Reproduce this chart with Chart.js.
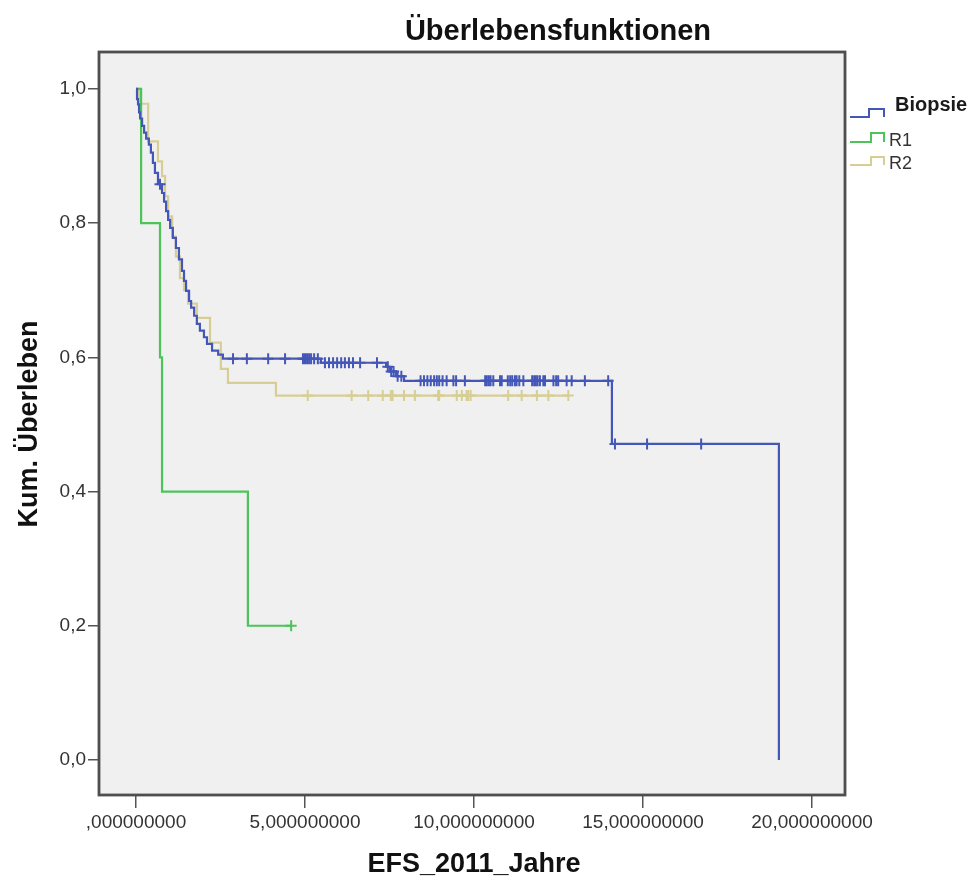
<!DOCTYPE html>
<html><head><meta charset="utf-8">
<script src="https://cdn.jsdelivr.net/npm/chart.js@4"></script>
<style>html,body{margin:0;padding:0;background:#fff;}canvas{display:block}</style>
</head><body>
<canvas id="c" width="975" height="879"></canvas>
<script>
// ---- data ----
const seriesNames = ['Biopsie', 'R1', 'R2'];
const seriesColors = ['#4457b8', '#4cc45a', '#d6ce94'];

const biopsieTimes = [0.03,0.06,0.09,0.12,0.18,0.24,0.30,0.38,0.44,0.50,0.56,0.65,0.77,0.83,0.89,0.95,1.01,1.09,1.18,1.27,1.36,1.42,1.48,1.57,1.63,1.72,1.80,1.89,2.01,2.10,2.25,2.43,2.57,5.47,7.40,7.51,7.69,7.93,14.08,19.02];
const biopsieSurv  = [0.985,0.977,0.965,0.956,0.945,0.935,0.926,0.917,0.905,0.890,0.875,0.858,0.845,0.832,0.818,0.805,0.793,0.778,0.763,0.746,0.729,0.714,0.699,0.684,0.674,0.662,0.650,0.640,0.630,0.620,0.610,0.604,0.598,0.592,0.586,0.579,0.572,0.565,0.471,0.000];
const biopsieCensored = [0.71,2.87,3.28,3.91,4.41,4.94,5.00,5.06,5.12,5.18,5.27,5.38,5.59,5.71,5.83,5.95,6.07,6.18,6.30,6.42,6.63,7.13,7.45,7.55,7.62,7.74,7.85,8.42,8.52,8.62,8.72,8.82,8.90,8.97,9.07,9.19,9.39,9.47,9.73,10.33,10.38,10.44,10.49,10.57,10.77,10.82,11.00,11.07,11.13,11.21,11.26,11.34,11.46,11.72,11.78,11.83,11.88,11.95,12.05,12.10,12.35,12.43,12.49,12.74,12.89,13.28,13.97,14.17,15.12,16.72];

const r1Times = [0.15,0.71,0.77,3.31];
const r1Surv  = [0.8,0.6,0.4,0.2];
const r1Censored = [4.59];

const r2Times = [0.09,0.36,0.65,0.77,0.86,0.95,1.07,1.18,1.30,1.42,1.54,1.80,2.19,2.51,2.72,4.14];
const r2Surv  = [0.978,0.922,0.892,0.870,0.840,0.810,0.780,0.750,0.718,0.700,0.680,0.659,0.622,0.583,0.562,0.543];
const r2Censored = [5.08,6.38,6.87,7.30,7.54,7.59,7.93,8.25,8.94,8.97,9.49,9.64,9.78,9.83,9.90,11.01,11.41,11.86,12.20,12.79];

const xTickValues = [0,5,10,15,20];
const xTickLabels = [',000000000','5,000000000','10,000000000','15,000000000','20,000000000'];
const yTickValues = [0,0.2,0.4,0.6,0.8,1.0];
const yTickLabels = ['0,0','0,2','0,4','0,6','0,8','1,0'];

const titleText = 'Überlebensfunktionen';
const xTitleText = 'EFS_2011_Jahre';
const yTitleText = 'Kum. Überleben';

// ---- build Kaplan-Meier step data ----
function stepLine(times, surv, censored) {
  const pts = [{x:0, y:1}];
  times.forEach((t,i)=>pts.push({x:t, y:surv[i]}));
  const lastT = Math.max(times[times.length-1], censored.length ? censored[censored.length-1] : 0);
  if (lastT > times[times.length-1]) pts.push({x:lastT, y:surv[surv.length-1]});
  return pts;
}
function survAt(times, surv, t) {
  let s = 1;
  for (let i=0;i<times.length;i++) { if (times[i] <= t) s = surv[i]; }
  return s;
}
function censorPts(times, surv, censored) {
  return censored.map(t=>({x:t, y:survAt(times, surv, t)}));
}
const sets = [
  [biopsieTimes, biopsieSurv, biopsieCensored],
  [r1Times, r1Surv, r1Censored],
  [r2Times, r2Surv, r2Censored]
];
const datasets = [];
sets.forEach((s,i)=>{
  datasets.push({label:seriesNames[i], data:stepLine(...s), stepped:true, borderColor:seriesColors[i],
    borderWidth:2.2, pointRadius:0, fill:false, order: i*2+1});
  datasets.push({label:seriesNames[i]+' zensiert', data:censorPts(...s), showLine:false,
    pointStyle:'cross', pointRadius:5.5, pointBorderWidth:2, pointBorderColor:seriesColors[i],
    pointBackgroundColor:seriesColors[i], order: i*2});
});

const FONT = '"Liberation Sans", Arial, Helvetica, sans-serif';

const decor = {
  id:'decor',
  beforeDraw(chart){
    const {ctx, chartArea:a} = chart;
    ctx.save();
    ctx.fillStyle = '#ffffff';
    ctx.fillRect(0,0,chart.width,chart.height);
    ctx.fillStyle = '#f0f0f0';
    ctx.fillRect(a.left, a.top, a.right-a.left, a.bottom-a.top);
    ctx.restore();
  },
  afterDraw(chart){
    const {ctx, chartArea:a} = chart;
    ctx.save();
    // frame
    ctx.strokeStyle = '#4e4e4e';
    ctx.lineWidth = 2.8;
    ctx.strokeRect(a.left, a.top, a.right-a.left, a.bottom-a.top);
    // title
    ctx.fillStyle = '#111';
    ctx.textAlign = 'center';
    ctx.textBaseline = 'alphabetic';
    ctx.font = 'bold 29px ' + FONT;
    ctx.fillText(titleText, 558, 40);
    // x title
    ctx.font = 'bold 27px ' + FONT;
    ctx.fillText(xTitleText, 474, 872);
    // y title
    ctx.save();
    ctx.translate(37, 424);
    ctx.rotate(-Math.PI/2);
    ctx.fillText(yTitleText, 0, 0);
    ctx.restore();
    // legend
    const leg = [
      {low:117, high:109, step:869, font:'bold 20px '+FONT, tx:895, ty:105, col:'#1a1a1a'},
      {low:142, high:133, step:871, font:'18px '+FONT, tx:889, ty:141, col:'#333'},
      {low:165, high:157, step:871, font:'18px '+FONT, tx:889, ty:164, col:'#333'}
    ];
    leg.forEach((L,i)=>{
      ctx.strokeStyle = seriesColors[i];
      ctx.lineWidth = 2;
      ctx.beginPath();
      ctx.moveTo(850, L.low); ctx.lineTo(L.step, L.low); ctx.lineTo(L.step, L.high);
      ctx.lineTo(884, L.high); ctx.lineTo(884, L.low);
      ctx.stroke();
      ctx.fillStyle = L.col;
      ctx.font = L.font;
      ctx.textAlign = 'left';
      ctx.textBaseline = 'middle';
      ctx.fillText(seriesNames[i], L.tx, L.ty);
    });
    ctx.restore();
  }
};

new Chart(document.getElementById('c'), {
  type:'line',
  data:{datasets},
  options:{
    responsive:false,
    animation:false,
    events:[],
    layout:{padding:{left:0, right:130, top:52, bottom:0}},
    plugins:{legend:{display:false}, title:{display:false}, tooltip:{enabled:false}},
    scales:{
      x:{
        type:'linear', min:-1.095, max:20.976,
        afterBuildTicks(ax){ ax.ticks = xTickValues.map(v=>({value:v})); },
        afterFit(ax){ ax.height = 84; },
        grid:{drawOnChartArea:false, drawTicks:true, tickLength:13, color:'#555', lineWidth:1.5},
        border:{display:false},
        ticks:{padding:3, color:'#333', maxRotation:0, autoSkip:false,
          font:{family:FONT, size:19},
          callback:(v,i)=>xTickLabels[i]}
      },
      y:{
        type:'linear', min:-0.0522, max:1.0551,
        afterBuildTicks(ax){ ax.ticks = yTickValues.map(v=>({value:v})); },
        afterFit(ax){ ax.width = 99; },
        grid:{drawOnChartArea:false, drawTicks:true, tickLength:11, color:'#555', lineWidth:1.5},
        border:{display:false},
        ticks:{padding:2, color:'#333', autoSkip:false,
          font:{family:FONT, size:19},
          callback:(v,i)=>yTickLabels[i]}
      }
    }
  },
  plugins:[decor]
});
</script>
</body></html>
